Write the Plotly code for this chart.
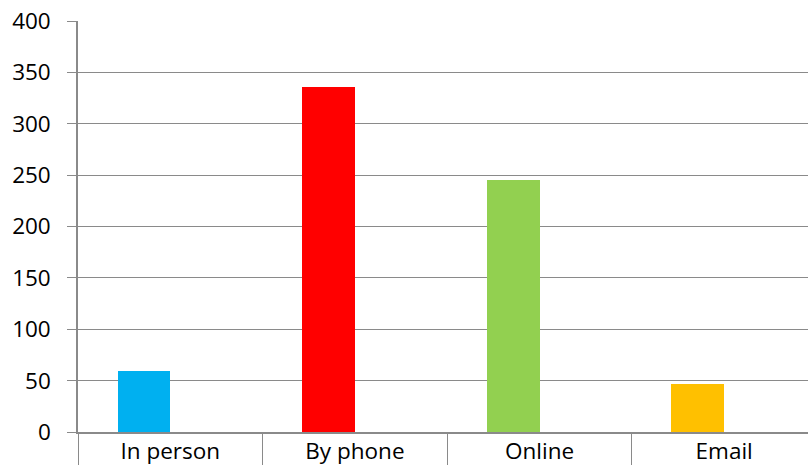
import plotly.graph_objects as go

categories = ["In person", "By phone", "Online", "Email"]
values = [59, 336, 245, 47]
colors = ["#00B0F0", "#FF0000", "#92D050", "#FFC000"]
y_ticks = [0, 50, 100, 150, 200, 250, 300, 350, 400]

fig = go.Figure()
fig.add_trace(go.Bar(
    x=categories, y=values, marker=dict(color=colors, line=dict(width=0)),
    width=0.286, offset=-0.286, showlegend=False,
))

grid = "#8a8a8a"
fig.update_layout(
    width=808, height=465,
    margin=dict(l=78, r=0, t=21, b=33),
    paper_bgcolor="white", plot_bgcolor="white",
    font=dict(family="Open Sans", size=22.5, color="black"),
    bargap=0,
)
fig.update_xaxes(
    type="category", range=[-0.5, 3.454],
    tickson="boundaries", ticks="outside", ticklen=34, tickwidth=1.3, tickcolor=grid,
    ticklabelstandoff=-2,
    showline=True, linecolor=grid, linewidth=1.5,
    showgrid=False, zeroline=False,
)
fig.update_yaxes(
    range=[0, 400], tickvals=y_ticks,
    ticks="outside", ticklen=9, tickwidth=1.3, tickcolor=grid,
    ticklabelstandoff=12,
    showline=True, linecolor=grid, linewidth=1.5,
    showgrid=True, gridcolor=grid, gridwidth=1.3, zeroline=False,
)
fig.write_html("out.html")
